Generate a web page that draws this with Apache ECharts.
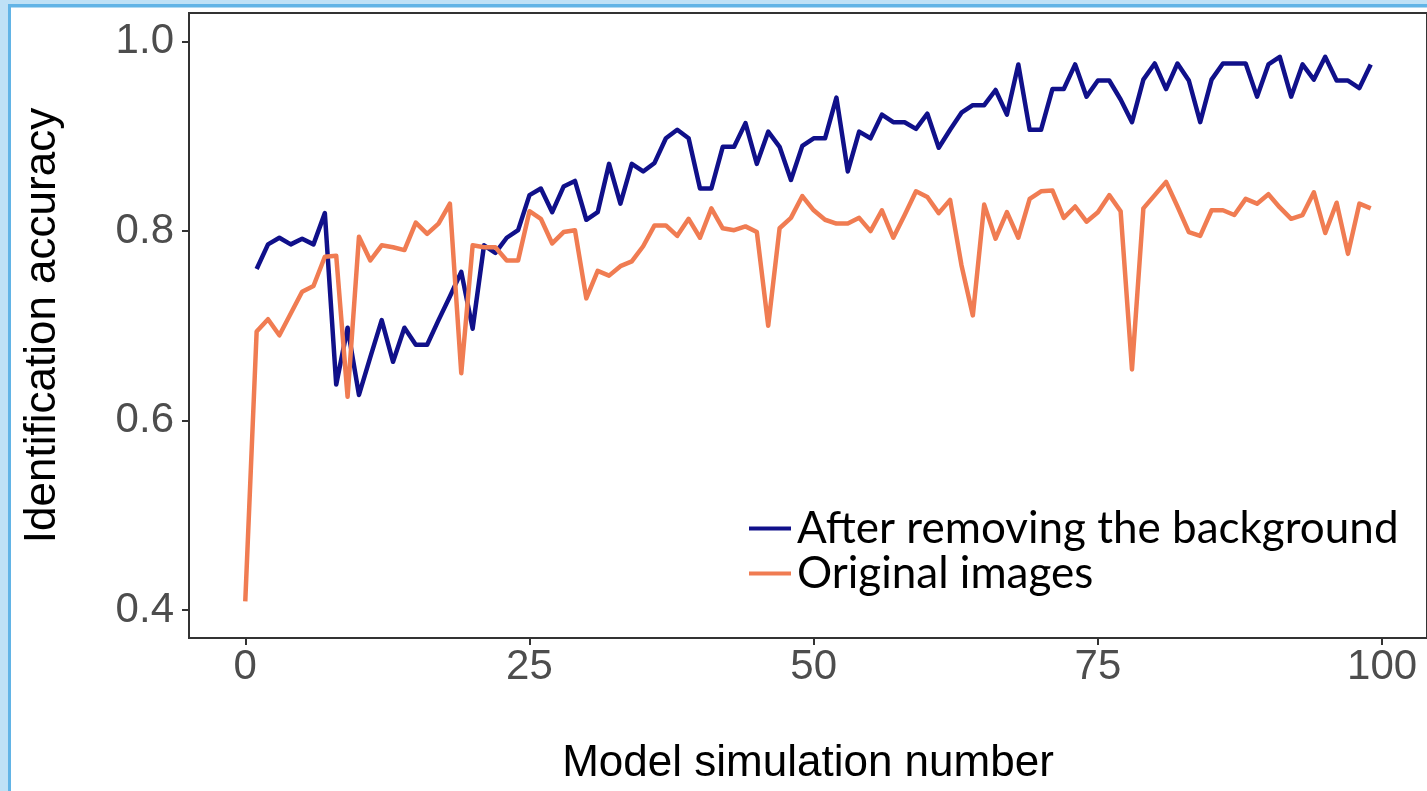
<!DOCTYPE html>
<html>
<head>
<meta charset="utf-8">
<script src="https://cdn.jsdelivr.net/npm/echarts@6/dist/echarts.min.js"></script>
<style>
html,body{margin:0;padding:0;background:#ffffff;}
#chart{width:1427px;height:791px;}
</style>
</head>
<body>
<div id="chart"></div>
<script>
// ---- data ----
const seriesNames = ['After removing the background', 'Original images'];
const xTicks = [0, 25, 50, 75, 100];
const yTicks = [0.4, 0.6, 0.8, 1.0];
// index = model simulation number (0..99); null = no value
const afterRemoving = [null,
  0.760, 0.786, 0.793, 0.786, 0.792, 0.786, 0.819, 0.638, 0.698, 0.627,
  0.667, 0.706, 0.662, 0.698, 0.680, 0.680, 0.706, 0.731, 0.757, 0.697,
  0.785, 0.777, 0.793, 0.801, 0.838, 0.845, 0.820, 0.847, 0.853, 0.812,
  0.820, 0.871, 0.829, 0.871, 0.863, 0.872, 0.898, 0.907, 0.898, 0.845,
  0.845, 0.889, 0.889, 0.914, 0.871, 0.905, 0.889, 0.854, 0.890, 0.898,
  0.898, 0.941, 0.863, 0.905, 0.898, 0.923, 0.915, 0.915, 0.908, 0.924,
  0.888, 0.907, 0.925, 0.933, 0.933, 0.949, 0.923, 0.976, 0.907, 0.907,
  0.950, 0.950, 0.976, 0.942, 0.959, 0.959, 0.939, 0.915, 0.960, 0.977,
  0.950, 0.977, 0.959, 0.915, 0.960, 0.977, 0.977, 0.977, 0.942, 0.976,
  0.984, 0.942, 0.976, 0.960, 0.984, 0.959, 0.959, 0.951, 0.976];
const originalImages = [0.409,
  0.694, 0.707, 0.690, 0.713, 0.736, 0.742, 0.773, 0.774, 0.625, 0.794,
  0.769, 0.785, 0.783, 0.780, 0.809, 0.797, 0.808, 0.829, 0.650, 0.785,
  0.783, 0.783, 0.769, 0.769, 0.821, 0.813, 0.787, 0.799, 0.801, 0.729,
  0.758, 0.753, 0.763, 0.768, 0.784, 0.806, 0.806, 0.795, 0.813, 0.793,
  0.824, 0.803, 0.801, 0.805, 0.799, 0.700, 0.803, 0.814, 0.837, 0.822,
  0.812, 0.808, 0.808, 0.814, 0.800, 0.822, 0.793, 0.817, 0.842, 0.836,
  0.819, 0.833, 0.764, 0.711, 0.828, 0.792, 0.820, 0.793, 0.834, 0.842,
  0.843, 0.814, 0.826, 0.810, 0.820, 0.838, 0.821, 0.654, 0.824, 0.838,
  0.852, 0.826, 0.799, 0.795, 0.822, 0.822, 0.817, 0.834, 0.829, 0.839,
  0.825, 0.813, 0.817, 0.841, 0.798, 0.830, 0.776, 0.829, 0.824];

const toPairs = arr => arr.map((v, i) => [i, v]).filter(p => p[1] !== null);

const chart = echarts.init(document.getElementById('chart'), null, {renderer: 'canvas'});
const tickFont = {fontFamily: 'Liberation Sans, Arial, sans-serif', fontSize: 42, color: '#4d4d4d'};
const titleFont = {fontFamily: 'Liberation Sans, Arial, sans-serif', fontSize: 44, color: '#000000'};

chart.setOption({
  animation: false,
  backgroundColor: '#ffffff',
  graphic: [
    {type: 'rect', shape: {x: 0, y: 0, width: 1427, height: 4}, style: {fill: '#bfe1f6'}, z: 100},
    {type: 'rect', shape: {x: 0, y: 0, width: 8, height: 791}, style: {fill: '#bfe1f6'}, z: 100},
    {type: 'rect', shape: {x: 8, y: 4, width: 1419, height: 3.5}, style: {fill: '#62b4e6'}, z: 101},
    {type: 'rect', shape: {x: 8, y: 4, width: 3, height: 787}, style: {fill: '#62b4e6'}, z: 101}
  ],
  grid: {
    left: 189, top: 13, width: 1239, height: 625,
    show: true, borderColor: '#333333', borderWidth: 2, backgroundColor: '#ffffff'
  },
  legend: {
    orient: 'vertical',
    left: 744, top: 501,
    itemWidth: 42, itemHeight: 4, itemGap: 0,
    icon: 'rect',
    textStyle: {fontFamily: 'Lato, Open Sans, sans-serif', fontSize: 44, color: '#000000', lineHeight: 45, padding: [0, 0, 0, 1]},
    data: seriesNames
  },
  xAxis: {
    type: 'value', min: -4.95, max: 103.95,
    name: 'Model simulation number', nameLocation: 'middle', nameGap: 104,
    nameTextStyle: titleFont,
    splitLine: {show: false},
    axisLine: {show: true, onZero: false, lineStyle: {color: '#333333', width: 2}},
    axisTick: {show: true, length: 7, lineStyle: {color: '#333333', width: 2}, customValues: xTicks},
    axisLabel: Object.assign({margin: 8, customValues: xTicks}, tickFont)
  },
  yAxis: {
    type: 'value', min: 0.3704, max: 1.0303,
    name: 'Identification accuracy', nameLocation: 'middle', nameGap: 124,
    nameTextStyle: titleFont,
    splitLine: {show: false},
    axisLine: {show: true, onZero: false, lineStyle: {color: '#333333', width: 2}},
    axisTick: {show: true, length: 7, lineStyle: {color: '#333333', width: 2}, customValues: yTicks},
    axisLabel: Object.assign({margin: 15, customValues: yTicks, formatter: v => v.toFixed(1)}, tickFont)
  },
  series: [
    {
      name: seriesNames[0], type: 'line', data: toPairs(afterRemoving),
      showSymbol: false, symbol: 'none', color: '#10108a',
      lineStyle: {width: 4.5, color: '#10108a', join: 'round'}
    },
    {
      name: seriesNames[1], type: 'line', data: toPairs(originalImages),
      showSymbol: false, symbol: 'none', color: '#f07c52',
      lineStyle: {width: 4.5, color: '#f07c52', join: 'round'}
    }
  ]
});
</script>
</body>
</html>
